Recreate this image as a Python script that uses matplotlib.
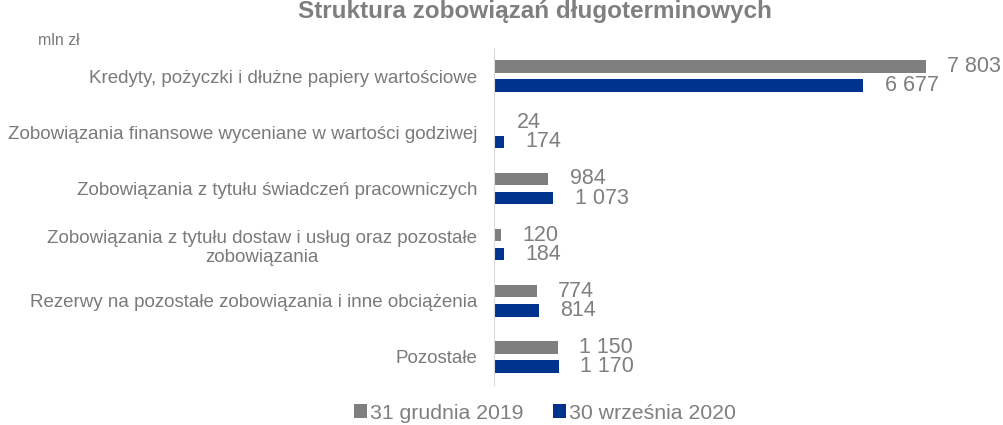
import matplotlib.pyplot as plt
import numpy as np

plt.rcParams['font.family'] = ['Liberation Sans', 'DejaVu Sans']

# dane (mln zł)
categories = [
    "Kredyty, pożyczki i dłużne papiery wartościowe",
    "Zobowiązania finansowe wyceniane w wartości godziwej",
    "Zobowiązania z tytułu świadczeń pracowniczych",
    "Zobowiązania z tytułu dostaw i usług oraz pozostałe\nzobowiązania",
    "Rezerwy na pozostałe zobowiązania i inne obciążenia",
    "Pozostałe",
]
values_2019 = [7803, 24, 984, 120, 774, 1150]
values_2020 = [6677, 174, 1073, 184, 814, 1170]
series_names = ["31 grudnia 2019", "30 września 2020"]

grey = '#7f7f7f'
blue = '#00338d'
text_col = '#7a7a7a'
label_col = '#7f7f7f'

def fmt(v):
    return f"{v:,}".replace(",", " ")

fig = plt.figure(figsize=(10.04, 4.25), dpi=100)
ax = fig.add_axes([0.492, 0.094, 0.496, 0.793])

y = np.arange(len(categories))
h = 0.22
off = 0.17
b1 = ax.barh(y - off, values_2019, height=h, color=grey, label=series_names[0])
b2 = ax.barh(y + off, values_2020, height=h, color=blue, label=series_names[1])

for bars, vals in ((b1, values_2019), (b2, values_2020)):
    for bar, v in zip(bars, vals):
        ax.annotate(fmt(v), (bar.get_width(), bar.get_y() + bar.get_height() / 2),
                    xytext=(15.5, 0), textcoords='offset points',
                    va='center', ha='left', fontsize=15.5, color=label_col)

ax.set_ylim(len(categories) - 0.5, -0.5)
ax.set_xlim(0, 9000)
ax.set_yticks(y)
ax.set_yticklabels(categories, fontsize=13.5, color=text_col, multialignment='center')
ax.tick_params(axis='y', length=0, pad=12)
ax.set_xticks([])
for s in ('top', 'right', 'bottom'):
    ax.spines[s].set_visible(False)
ax.spines['left'].set_color('#d9d9d9')

fig.text(0.533, 0.999, "Struktura zobowiązań długoterminowych", ha='center', va='top',
         fontsize=17.5, fontweight='bold', color=label_col)
fig.text(0.038, 0.905, "mln zł", ha='left', va='center', fontsize=11.5, color=text_col)

leg = fig.legend(handles=[b1, b2], labels=series_names, loc='center', bbox_to_anchor=(0.543, 0.028),
                 ncol=2, frameon=False, fontsize=15.3, handlelength=0.6, handleheight=0.6,
                 handletextpad=0.15, columnspacing=1.4, labelcolor=label_col)

fig.savefig('out.png', dpi=100)
